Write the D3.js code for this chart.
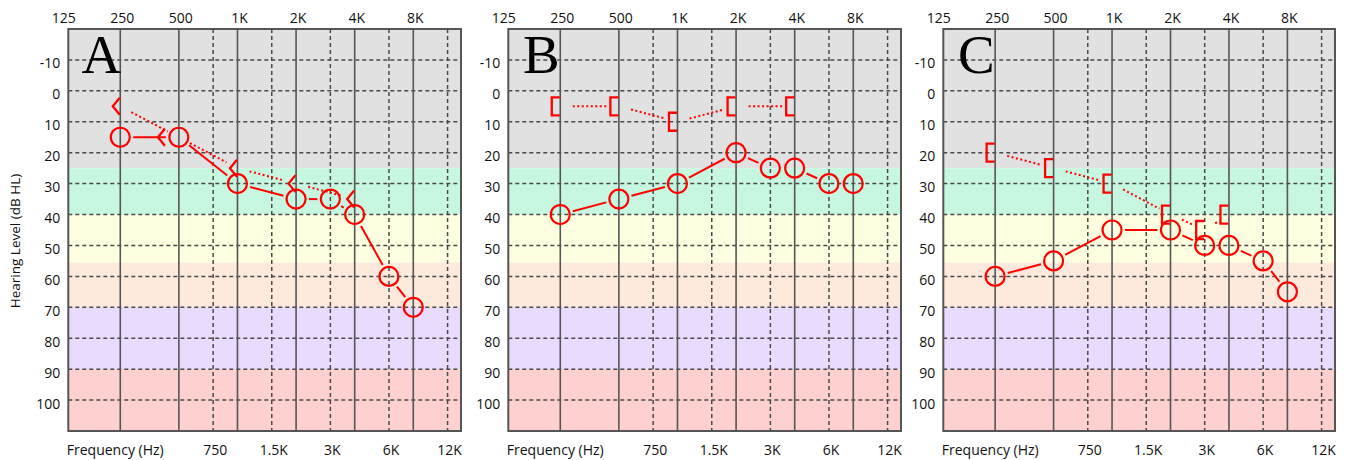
<!DOCTYPE html>
<html><head><meta charset="utf-8">
<script src="https://cdn.jsdelivr.net/npm/d3@7"></script>
<style>body{margin:0;background:#fff;} text{font-family:"Open Sans",sans-serif;}</style>
</head><body><svg id="c" width="1347" height="460"></svg>
<script>
// ---- data ----
const panelLetters = ["A", "B", "C"];
const topTickFreqs = [125, 250, 500, 1000, 2000, 4000, 8000];
const topTickLabels = ["125", "250", "500", "1K", "2K", "4K", "8K"];
const bottomTickFreqs = [750, 1500, 3000, 6000, 12000];
const bottomTickLabels = ["750", "1.5K", "3K", "6K", "12K"];
const solidGridFreqs = [250, 500, 1000, 2000, 4000, 8000];
const dashedGridFreqs = [750, 1500, 3000, 6000, 12000];
const dbTicks = [-10, 0, 10, 20, 30, 40, 50, 60, 70, 80, 90, 100];
const bandEdges = [-20, 25, 40, 55.5, 70, 90, 110];
const airFreqs = [250, 500, 1000, 2000, 3000, 4000, 6000, 8000];
const airA = [15, 15, 30, 35, 35, 40, 60, 70];
const airB = [40, 35, 30, 20, 25, 25, 30, 30];
const airC = [60, 55, 45, 45, 50, 50, 55, 65];
const boneFreqsA = [250, 500, 1000, 2000, 4000];
const boneA = [5, 15, 25, 30, 35];
const boneFreqsB = [250, 500, 1000, 2000, 4000];
const boneB = [5, 5, 10, 5, 5];
const boneFreqsC = [250, 500, 1000, 2000, 3000, 4000];
const boneC = [20, 25, 30, 40, 45, 40];
const boneSymbols = ["<", "[", "["];

// ---- layout / style ----
const bandColors = ["#e1e1e1", "#c8f7e1", "#fefee0", "#feeadd", "#e8dbfe", "#fed0d0"];
const panelLefts = [68.3, 508.3, 943.3];
const panelWidths = [392.7, 392.7, 391.7];
const plotTop = 29, plotBottom = 431;
const xDomain = [135.2, 14066];
const red = "#ff0000";
const gridCol = "#4a4a4a";
const textCol = "#111";
const fs = 14;

const panels = [
  {air: airA, boneF: boneFreqsA, bone: boneA},
  {air: airB, boneF: boneFreqsB, bone: boneB},
  {air: airC, boneF: boneFreqsC, bone: boneC}
];

const svg = d3.select("#c");
const y = d3.scaleLinear().domain([-20, 110]).range([plotTop, plotBottom]);

function trimmedSegments(pts, trim) {
  const segs = [];
  for (let i = 0; i < pts.length - 1; i++) {
    const [x1, y1] = pts[i], [x2, y2] = pts[i + 1];
    const dx = x2 - x1, dy = y2 - y1, len = Math.hypot(dx, dy);
    if (len <= 2 * trim) continue;
    const ux = dx / len, uy = dy / len;
    segs.push([x1 + ux * trim, y1 + uy * trim, x2 - ux * trim, y2 - uy * trim]);
  }
  return segs;
}

panels.forEach((p, i) => {
  const L = panelLefts[i], W = panelWidths[i];
  const x = d3.scaleLog().domain(xDomain).range([L, L + W]);
  const g = svg.append("g");

  for (let b = 0; b < bandEdges.length - 1; b++) {
    g.append("rect").attr("x", L).attr("width", W)
      .attr("y", y(bandEdges[b])).attr("height", y(bandEdges[b + 1]) - y(bandEdges[b]))
      .attr("fill", bandColors[b]);
  }
  g.selectAll(".hg").data(dbTicks).enter().append("line")
    .attr("x1", L).attr("x2", L + W).attr("y1", d => y(d)).attr("y2", d => y(d))
    .attr("stroke", gridCol).attr("stroke-width", 1.5).attr("stroke-dasharray", "4,3");
  g.selectAll(".vd").data(dashedGridFreqs).enter().append("line")
    .attr("x1", d => x(d)).attr("x2", d => x(d)).attr("y1", plotTop).attr("y2", plotBottom)
    .attr("stroke", gridCol).attr("stroke-width", 1.5).attr("stroke-dasharray", "4,3");
  g.selectAll(".vs").data(solidGridFreqs).enter().append("line")
    .attr("x1", d => x(d)).attr("x2", d => x(d)).attr("y1", plotTop).attr("y2", plotBottom)
    .attr("stroke", "#555").attr("stroke-width", 1.6);
  g.append("rect").attr("x", L).attr("y", plotTop).attr("width", W).attr("height", plotBottom - plotTop)
    .attr("fill", "none").attr("stroke", "#555").attr("stroke-width", 2);

  g.selectAll(".tt").data(topTickFreqs).enter().append("text")
    .attr("x", d => x(d) + 2).attr("y", 23).attr("text-anchor", "middle")
    .attr("font-size", fs).attr("fill", textCol)
    .text((d, k) => topTickLabels[k]);
  g.selectAll(".bt").data(bottomTickFreqs).enter().append("text")
    .attr("x", d => x(d) + 2).attr("y", 455).attr("text-anchor", "middle")
    .attr("font-size", fs).attr("fill", textCol)
    .text((d, k) => bottomTickLabels[k]);
  g.append("text").attr("x", L - 1.5).attr("y", 455).attr("font-size", fs)
    .attr("fill", textCol).text("Frequency (Hz)");
  g.selectAll(".yt").data(dbTicks).enter().append("text")
    .attr("x", L - 8).attr("y", d => y(d) + 8.5).attr("text-anchor", "end")
    .attr("font-size", fs).attr("fill", textCol).text(d => d);

  g.append("text").attr("x", L + 33).attr("y", 73.3).attr("text-anchor", "middle")
    .style("font-family", "'Liberation Serif','Times New Roman',serif")
    .attr("font-size", 55).attr("fill", "#000").text(panelLetters[i]);

  const airPts = airFreqs.map((f, k) => [x(f), y(p.air[k])]);
  const bonePts = p.boneF.map((f, k) => [x(f), y(p.bone[k])]);

  trimmedSegments(bonePts, 12.5).forEach(s => {
    g.append("line").attr("x1", s[0]).attr("y1", s[1]).attr("x2", s[2]).attr("y2", s[3])
      .attr("stroke", red).attr("stroke-width", 2).attr("stroke-dasharray", "2,2.5");
  });
  trimmedSegments(airPts, 13).forEach(s => {
    g.append("line").attr("x1", s[0]).attr("y1", s[1]).attr("x2", s[2]).attr("y2", s[3])
      .attr("stroke", red).attr("stroke-width", 2);
  });

  g.selectAll(".air").data(airPts).enter().append("circle")
    .attr("cx", d => d[0]).attr("cy", d => d[1]).attr("r", 9.5)
    .attr("fill", "none").attr("stroke", red).attr("stroke-width", 2.2);

  const sym = boneSymbols[i];
  p.boneF.forEach((f, k) => {
    const ai = airFreqs.indexOf(f);
    const collide = ai >= 0 && p.air[ai] === p.bone[k];
    const bx = x(f) - (collide ? 14 : 0.5);
    const by = y(p.bone[k]);
    let d;
    if (sym === "<") {
      d = `M${bx},${by - 8.5}L${bx - 7},${by}L${bx},${by + 8.5}`;
    } else {
      d = `M${bx},${by - 9}L${bx - 8},${by - 9}L${bx - 8},${by + 9}L${bx},${by + 9}`;
    }
    g.append("path").attr("d", d).attr("fill", "none").attr("stroke", red)
      .attr("stroke-width", 2.3).attr("stroke-linejoin", "miter");
  });
});

svg.append("text").attr("transform", "translate(20,241) rotate(-90)")
  .attr("text-anchor", "middle").attr("font-size", 13.5).attr("fill", textCol)
  .text("Hearing Level (dB HL)");
</script>
</body></html>
